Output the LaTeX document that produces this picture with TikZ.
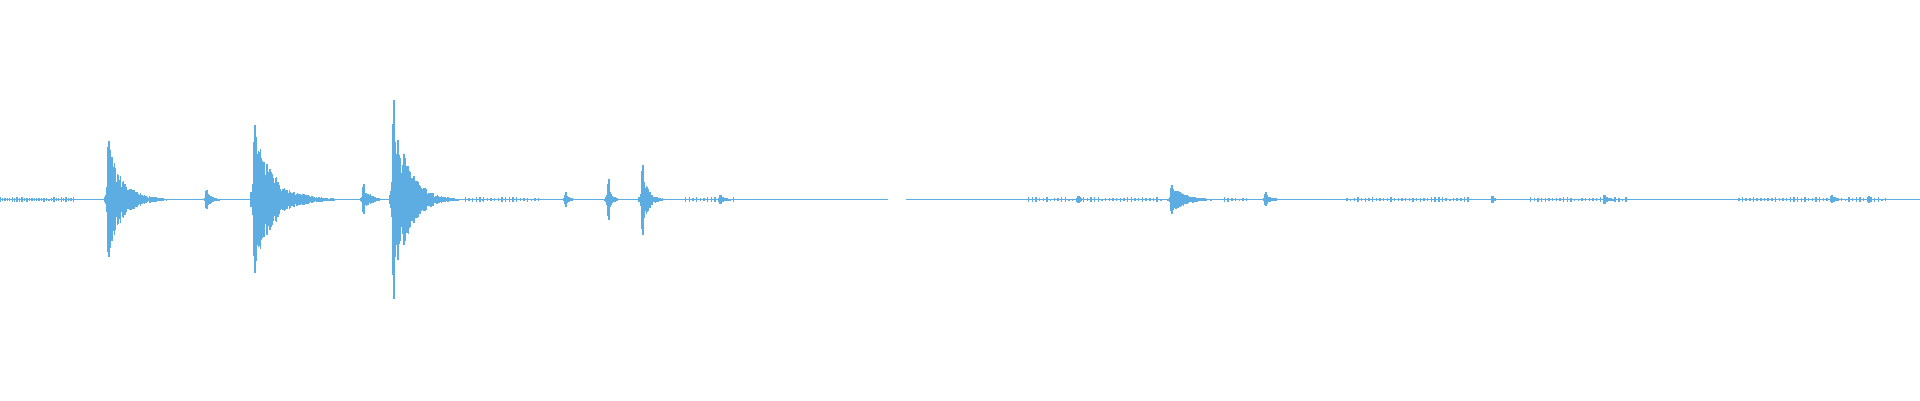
\documentclass[tikz,border=0pt]{standalone}
\definecolor{wave}{RGB}{93,173,226}
\newcommand\wburst[5]{% x, up amp, down amp, tau, length
  \draw[wave,line width=0.6] (#1+1,163-#2) -- (#1+1,163+#3);
  \foreach \i in {0,0.5,...,#5}{
    \pgfmathsetmacro\f{exp(-\i/#4)*(0.45+0.55*rnd)}
    \draw[wave,line width=0.4] (#1+\i,163-#2*\f) -- (#1+\i,163+#3*\f);
  }
  \foreach \i in {0.5,1,...,3}{
    \pgfmathsetmacro\f{(1-\i/3)*(0.35+0.65*rnd)}
    \draw[wave,line width=0.4] (#1-\i,163-#2*\f*0.3) -- (#1-\i,163+#3*\f*0.3);
  }
}
\begin{document}
\begin{tikzpicture}[x=0.012245cm,y=-0.012245cm]
\useasboundingbox (0,0) rectangle (1568,326.7);
\pgfmathsetseed{7}
\draw[wave,line width=0.5] (0,163) -- (725,163);
\draw[wave,line width=0.35] (740,163) -- (1568,163);
\foreach \x in {0,2,...,60,380,383,...,440,560,563,...,600,840,843,...,950,1000,1003,...,1020,1100,1103,...,1200,1250,1253,...,1330,1420,1423,...,1540}{
  \pgfmathsetmacro\a{0.8+1.4*rnd}
  \draw[wave,line width=0.4] (\x,163-\a) -- (\x,163+\a);
}
\wburst{88}{48}{47}{12}{50}
\wburst{168}{8}{8}{5}{14}
\wburst{207}{61}{60}{16}{70}
\wburst{296}{13}{12}{6}{18}
\wburst{321}{81}{81}{12}{75}
\wburst{461}{6}{6}{4}{8}
\wburst{496}{17}{17}{3}{10}
\wburst{524}{28}{29}{5}{25}
\wburst{588}{4}{4}{5}{12}
\wburst{880}{3}{3}{3}{6}
\wburst{956}{12}{12}{12}{40}
\wburst{1033}{6}{5}{5}{14}
\wburst{1218}{3}{3}{3}{5}
\wburst{1310}{4}{4}{5}{14}
\wburst{1495}{4}{3}{5}{15}
\wburst{1525}{3}{3}{3}{6}
\end{tikzpicture}
\end{document}
